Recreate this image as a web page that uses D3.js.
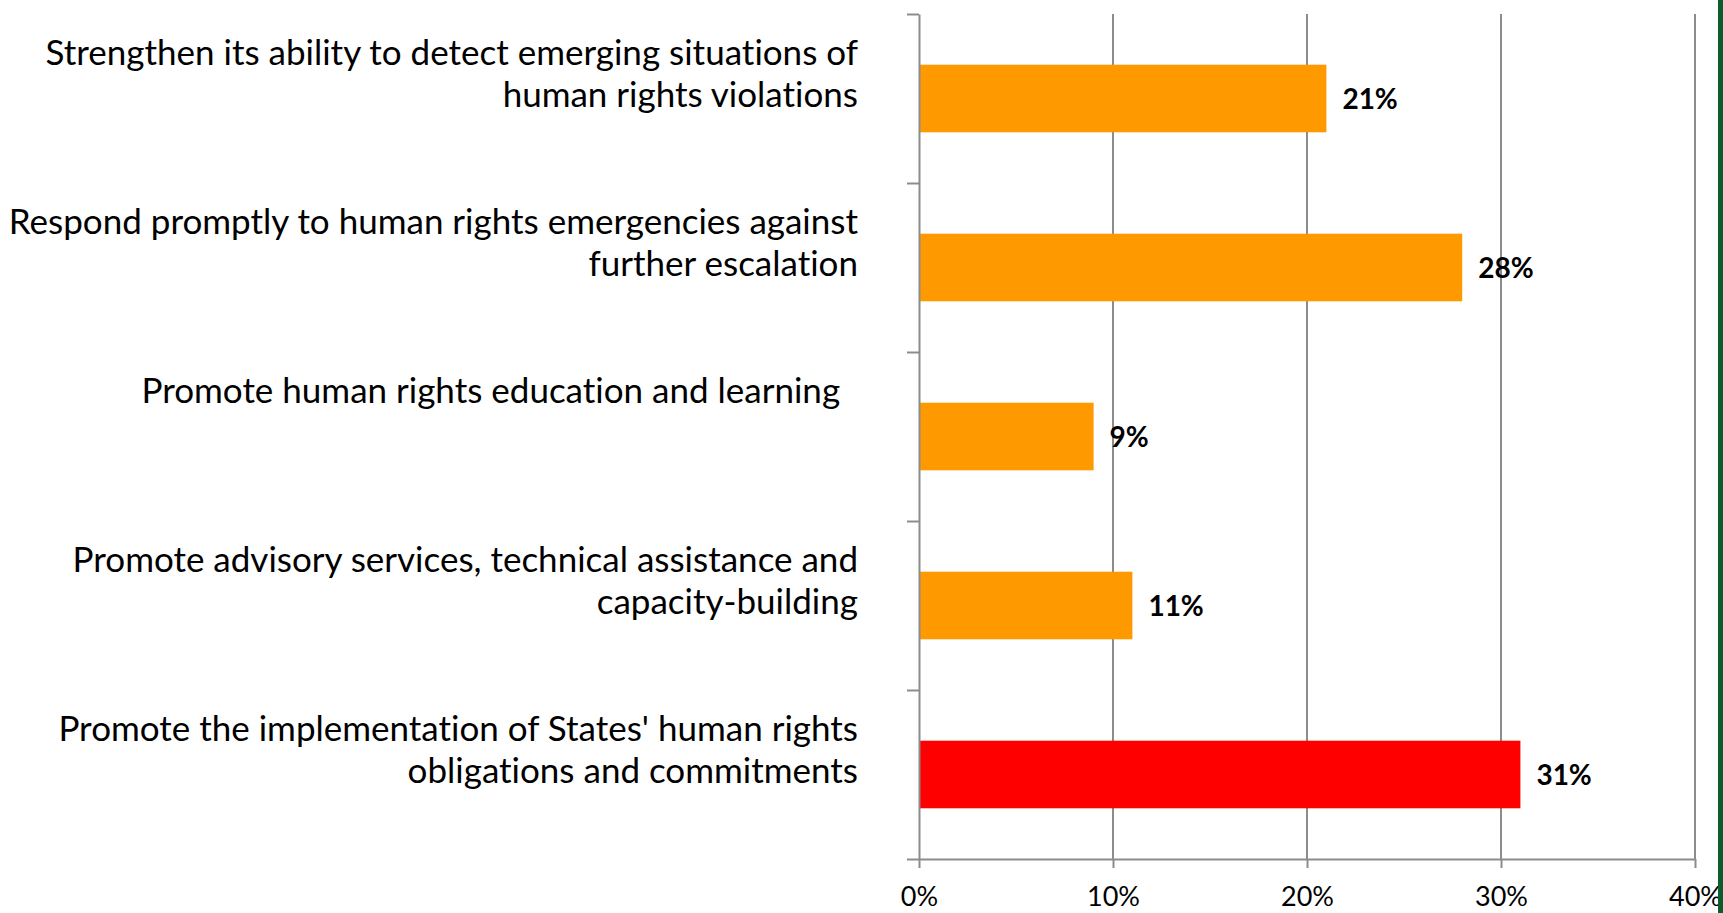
<!DOCTYPE html>
<html>
<head>
<meta charset="utf-8">
<script src="https://cdn.jsdelivr.net/npm/d3@7"></script>
<style>
  body { margin: 0; background: #fff; }
  svg { display: block; }
  text { font-family: Lato, "Open Sans", sans-serif; font-variant-ligatures: none; }
</style>
</head>
<body>
<div id="chart"></div>
<script>
// category labels (each one split in lines, like the original)
const categories = [
  ["Strengthen its ability to detect emerging situations of", "human rights violations"],
  ["Respond promptly to human rights emergencies against", "further escalation"],
  ["Promote human rights education and learning  ", ""],
  ["Promote advisory services, technical assistance and", "capacity-building"],
  ["Promote the implementation of States' human rights", "obligations and commitments"]
];
const values = [0.21, 0.28, 0.09, 0.11, 0.31];
const barColors = ["#ff9900", "#ff9900", "#ff9900", "#ff9900", "#ff0000"];
const xTicks = [0, 0.1, 0.2, 0.3, 0.4];

const W = 1723, H = 913;
const plotLeft = 919, plotRight = 1695, plotTop = 14, plotBottom = 859;

const svg = d3.select("#chart").append("svg")
  .attr("width", W)
  .attr("height", H);

svg.append("rect").attr("width", W).attr("height", H).attr("fill", "#fff");

// scales
const x = d3.scaleLinear().domain([0, 0.4]).range([plotLeft, plotRight]);
const y = d3.scaleBand()
  .domain(d3.range(categories.length))
  .range([plotTop, plotBottom])
  .paddingInner(0.6)
  .paddingOuter(0.3);
// category boundaries for the left axis ticks
const yb = d3.scaleLinear().domain([0, categories.length]).range([plotTop, plotBottom]);

// gridlines
svg.append("g")
  .selectAll("line")
  .data(xTicks.slice(1))
  .join("line")
  .attr("x1", d => x(d)).attr("x2", d => x(d))
  .attr("y1", plotTop).attr("y2", plotBottom)
  .attr("stroke", "#8c8c8c")
  .attr("stroke-width", 2);

// bars
svg.append("g")
  .selectAll("rect")
  .data(values)
  .join("rect")
  .attr("x", x(0))
  .attr("y", (d, i) => y(i))
  .attr("width", d => x(d) - x(0))
  .attr("height", y.bandwidth())
  .attr("fill", (d, i) => barColors[i]);

// x axis
const xAxis = svg.append("g")
  .attr("transform", `translate(0,${plotBottom})`)
  .call(d3.axisBottom(x).tickValues(xTicks).tickFormat(d3.format(".0%")).tickSizeInner(9).tickSizeOuter(0).tickPadding(0));
xAxis.select(".domain").attr("stroke", "#8c8c8c").attr("stroke-width", 2);
xAxis.selectAll(".tick line").attr("stroke", "#8c8c8c").attr("stroke-width", 2);
xAxis.selectAll(".tick text")
  .attr("y", 47)
  .attr("dy", null)
  .attr("fill", "#000")
  .style("font-size", "27px");

// y axis (lines only)
const yAxis = svg.append("g")
  .attr("transform", `translate(${plotLeft},0)`)
  .call(d3.axisLeft(yb).tickValues(d3.range(categories.length + 1)).tickFormat("").tickSizeInner(12).tickSizeOuter(0));
yAxis.select(".domain").attr("stroke", "#8c8c8c").attr("stroke-width", 2);
yAxis.selectAll(".tick line").attr("stroke", "#8c8c8c").attr("stroke-width", 2);

// category labels, last line sits on the bar centre
const labels = svg.append("g");
categories.forEach((lines, i) => {
  const c = y(i) + y.bandwidth() / 2;
  lines.forEach((t, j) => {
    labels.append("text")
      .attr("x", 858)
      .attr("y", c + 8 - (lines.length - 1 - j) * 42)
      .attr("text-anchor", "end")
      .style("white-space", "pre")
      .style("font-size", "35px")
      .attr("fill", "#000")
      .text(t);
  });
});

// value labels
svg.append("g")
  .selectAll("text")
  .data(values)
  .join("text")
  .attr("x", d => x(d) + 16)
  .attr("y", (d, i) => y(i) + y.bandwidth() / 2 + 10)
  .style("font-size", "28px")
  .style("font-weight", "bold")
  .attr("fill", "#000")
  .text(d => d3.format(".0%")(d));

// green strip on the right edge
svg.append("rect")
  .attr("x", 1718).attr("y", 0)
  .attr("width", 5).attr("height", H)
  .attr("fill", "#0b5d2b");
</script>
</body>
</html>
